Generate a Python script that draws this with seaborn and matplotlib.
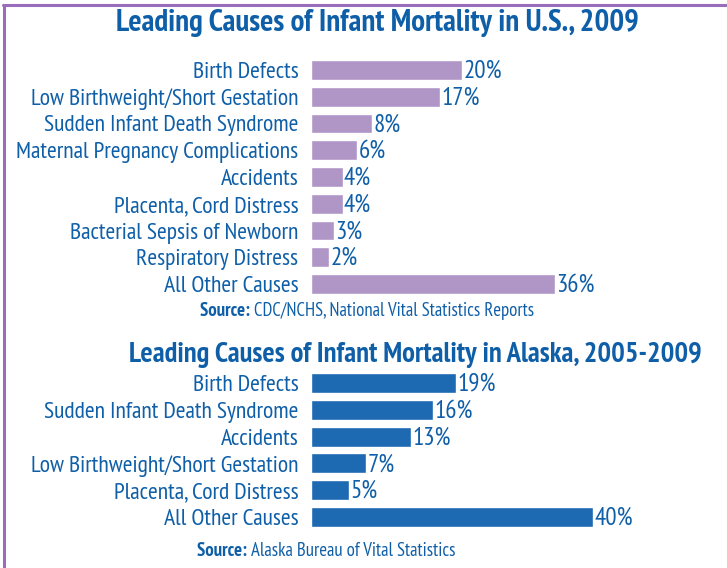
import matplotlib
matplotlib.use("Agg")
import matplotlib.pyplot as plt
import seaborn as sns
import pandas as pd
from matplotlib.lines import Line2D

sns.set_style("white")
plt.rcParams['font.family'] = ['PT Sans Narrow', 'Fira Sans Condensed', 'DejaVu Sans']

# ---- data ----
us_title = "Leading Causes of Infant Mortality in U.S., 2009"
us_causes = ["Birth Defects", "Low Birthweight/Short Gestation", "Sudden Infant Death Syndrome",
             "Maternal Pregnancy Complications", "Accidents", "Placenta, Cord Distress",
             "Bacterial Sepsis of Newborn", "Respiratory Distress", "All Other Causes"]
us_labels = ["20%", "17%", "8%", "6%", "4%", "4%", "3%", "2%", "36%"]
# bar lengths as drawn in the picture (the 'other' bar is drawn shorter than scale)
us_lengths = [20, 17.1, 8.1, 6.1, 4.2, 4.2, 3.0, 2.4, 32.3]
us_source = "CDC/NCHS, National Vital Statistics Reports"

ak_title = "Leading Causes of Infant Mortality in Alaska, 2005-2009"
ak_causes = ["Birth Defects", "Sudden Infant Death Syndrome", "Accidents",
             "Low Birthweight/Short Gestation", "Placenta, Cord Distress", "All Other Causes"]
ak_labels = ["19%", "16%", "13%", "7%", "5%", "40%"]
ak_lengths = [19, 16, 13.1, 7.2, 5.0, 37.0]
ak_source = "Alaska Bureau of Vital Statistics"

W, H = 727, 568
PURPLE_BAR = "#b096c6"
BLUE_BAR = "#1d69b2"
TEXT = "#0f5fa8"
FRAME = "#9a6dbb"

fig = plt.figure(figsize=(W / 100, H / 100), dpi=100)

def px_axes(left, top, right, bottom):
    return fig.add_axes([left / W, 1 - bottom / H, (right - left) / W, (bottom - top) / H])

def draw(ax, causes, lengths, labels, color, xmax):
    df = pd.DataFrame({"cause": causes, "val": lengths})
    sns.barplot(data=df, y="cause", x="val", color=color, saturation=1, width=0.74, ax=ax, orient="h")
    ax.set_xlim(0, xmax)
    ax.set_ylim(len(causes) - 0.5, -0.5)
    ax.set_xlabel("")
    ax.set_ylabel("")
    ax.set_xticks([])
    for s in ax.spines.values():
        s.set_visible(False)
    ax.tick_params(axis="y", length=0, pad=9, labelsize=17, labelcolor=TEXT)
    for p, lab in zip(ax.patches, labels):
        ax.text(p.get_width() + xmax * 0.003, p.get_y() + p.get_height() / 2 + 0.05, lab,
                va="center", ha="left", fontsize=18, color=TEXT)
    ax.patch.set_alpha(0)

# US panel: row centres 70..284, bar start x=311, scale ~7.55 px per %
ax1 = px_axes(311, 56.6, 711, 297.4)
draw(ax1, us_causes, us_lengths, us_labels, PURPLE_BAR, 400 / 7.55)

# Alaska panel: row centres 383..517, scale ~7.63 px per %
ax2 = px_axes(311, 369.6, 711, 530.4)
draw(ax2, ak_causes, ak_lengths, ak_labels, BLUE_BAR, 400 / 7.63)

fig.text(377 / W, 1 - 23 / H, us_title, ha="center", va="center", fontsize=22.3,
         fontweight="bold", color=TEXT)
fig.text(415 / W, 1 - 355 / H, ak_title, ha="center", va="center", fontsize=20.6,
         fontweight="bold", color=TEXT)

def source(xc, y, txt):
    t1 = fig.text(0, 1 - y / H, "Source: ", ha="left", va="center", fontsize=13.5,
                  fontweight="bold", color=TEXT)
    t2 = fig.text(0, 1 - y / H, txt, ha="left", va="center", fontsize=13.5, color=TEXT)
    fig.canvas.draw()
    r = fig.canvas.get_renderer()
    w1 = t1.get_window_extent(r).width
    w2 = t2.get_window_extent(r).width
    x0 = xc - (w1 + w2) / 2
    t1.set_x(x0 / W)
    t2.set_x((x0 + w1) / W)

source(367, 311, us_source)
source(326, 551, ak_source)

# purple frame (top and left)
fig.add_artist(Line2D([4 / W, 4 / W], [0, 1 - 5 / H], color=FRAME, lw=2.2))
fig.add_artist(Line2D([3 / W, 1], [1 - 5 / H, 1 - 5 / H], color=FRAME, lw=2.2))

fig.savefig("out.png", dpi=100)
